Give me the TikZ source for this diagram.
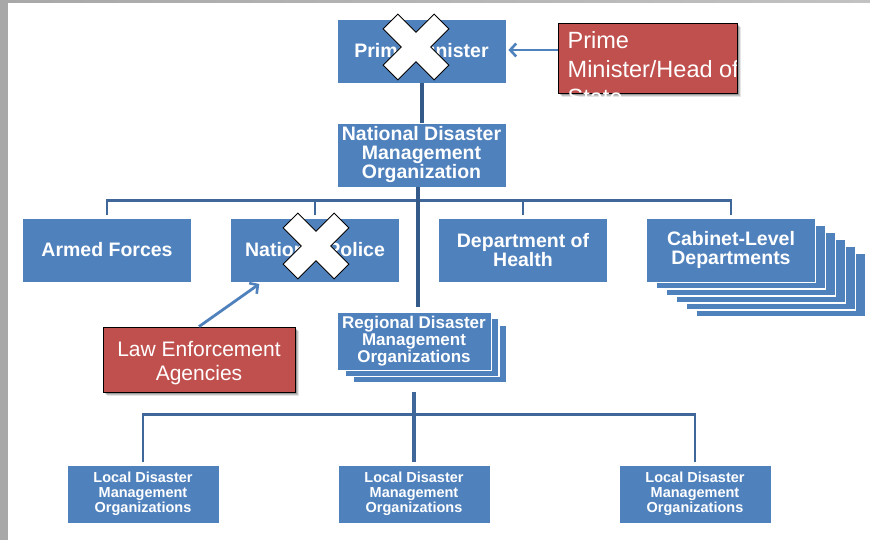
\documentclass[tikz,border=0pt]{standalone}
\usepackage{fontspec}
\setmainfont{Liberation Sans}
\usetikzlibrary{arrows.meta,calc}
\definecolor{boxblue}{HTML}{4F81BD}
\definecolor{linedark}{HTML}{345A8A}
\definecolor{busblue}{HTML}{3F679A}
\definecolor{notered}{HTML}{C0504D}
\definecolor{marging}{HTML}{A8A8A8}
\tikzset{
  orgbox/.style={rectangle, fill=boxblue, draw=white, line width=0.8pt, text=white,
    inner sep=0pt, align=center, font=\fontsize{19.5}{19}\selectfont\bfseries},
  bigbox/.style={orgbox, minimum width=169pt, minimum height=64pt},
  regbox/.style={orgbox, minimum width=154pt, minimum height=58pt,
    font=\fontsize{17}{17}\selectfont\bfseries},
  localbox/.style={orgbox, minimum width=152pt, minimum height=58pt,
    font=\fontsize{14.5}{15}\selectfont\bfseries},
  stackcopy/.style={fill=boxblue, draw=white, line width=1.2pt},
  notebox/.style={rectangle, fill=notered, draw=black, line width=0.8pt, inner sep=0pt},
  notetext/.style={text=white, inner sep=0pt, align=center},
  spine/.style={draw=linedark, line width=4pt},
  busline/.style={draw=busblue, line width=2.6pt},
  callarrow/.style={draw=boxblue, line width=2.8pt, -{Straight Barb[length=6pt,width=13pt,line width=2.6pt]}},
  crossmark/.style={fill=white, draw=black, line width=0.9pt, line join=miter},
}
\newcommand{\crossat}[2]{%
  \begin{scope}[shift={(#1,#2)}, rotate=45]
    \filldraw[crossmark] (10.5,36) -- (10.5,10.5) -- (36,10.5) -- (36,-10.5) -- (10.5,-10.5) -- (10.5,-36)
      -- (-10.5,-36) -- (-10.5,-10.5) -- (-36,-10.5) -- (-36,10.5) -- (-10.5,10.5) -- (-10.5,36) -- cycle;
  \end{scope}}
\newcommand{\shadowrect}[4]{%
  \foreach \s/\o in {4/0.10,3/0.15,2/0.20}{
    \fill[black, opacity=\o] ($(#1,#2)+(\s,\s)$) rectangle ($(#3,#4)+(\s,\s)$);
  }}
\begin{document}
\begin{tikzpicture}[x=1pt, y=-1pt]
\useasboundingbox (0,0) rectangle (870,540);
\fill[white] (0,0) rectangle (870,540);
% margins
\shade[left color=marging, right color=marging!70] (0,0) rectangle (870,3);
\fill[marging] (0,0) rectangle (8,540);

% boxes
\node[bigbox] (pm) at (421.5,51) {Prime Minister};
\node[bigbox] (ndmo) at (421.5,155) {National Disaster\\Management\\Organization};
\node[bigbox] (armed) at (107,250) {Armed Forces};
\node[bigbox] (police) at (315,250) {National Police};
\node[bigbox] (health) at (523,250) {Department of\\Health};
\foreach \k in {5,4,3,2,1}{
  \fill[stackcopy] (646.5+10*\k,218+7*\k) rectangle (815.5+10*\k,282+7*\k);
}
\node[bigbox] (cabinet) at (731,250) {Cabinet-Level\\Departments};
\foreach \k in {2,1}{
  \fill[stackcopy] (337+8*\k,312+6.5*\k) rectangle (491+8*\k,370+6.5*\k);
}
\node[regbox] (regional) at (414,341) {Regional Disaster\\Management\\Organizations};
\node[localbox] (local1) at (143,494) {Local Disaster\\Management\\Organizations};
\node[localbox] (local2) at (414,494) {Local Disaster\\Management\\Organizations};
\node[localbox] (local3) at (695,494) {Local Disaster\\Management\\Organizations};

% connectors
\draw[spine] (pm.south) -- (ndmo.north);
\coordinate (spinex) at (418,0);
\draw[busline] ([yshift=3pt]armed.north) -- ++(0,-14) -| ([yshift=3pt]cabinet.north);
\draw[busline] ([yshift=3pt]police.north) -- ++(0,-14);
\draw[busline] ([yshift=3pt]health.north) -- ++(0,-14);
\draw[spine] (ndmo.south -| spinex) -- ([yshift=5pt]regional.north -| spinex);
\draw[busline] ([yshift=3pt]local1.north) -- ++(0,-47) -| ([yshift=3pt]local3.north);
\draw[spine, line width=3.6pt, draw=busblue] ([yshift=-22pt]regional.south) -- ([yshift=3pt]local2.north);

% crosses
\crossat{416}{47}
\crossat{316}{246}

% callout: prime minister
\shadowrect{558}{23}{737}{93}
\node[notebox, minimum width=179pt, minimum height=70pt] (pmnote) at (647.5,58) {};
\begin{scope}
  \clip (558.5,23) rectangle (736.5,100);
  \node[notetext, anchor=north west, align=left, font=\fontsize{23.5}{28.5}\selectfont] (pmnotetext) at (567.5,31.5) {Prime\\Minister/Head of\\State};
\end{scope}
\draw[callarrow, shorten >=2pt] ([yshift=8pt]pmnote.west) -- ([yshift=8pt]pmnote.west -| pm.east);

% callout: law enforcement
\shadowrect{103}{327}{295}{392}
\node[notebox, minimum width=192pt, minimum height=65pt] (lawnote) at (199,359.5) {};
\node[notetext, font=\fontsize{21}{24}\selectfont] (lawnotetext) at ([yshift=-4pt]lawnote.center) {Law Enforcement\\Agencies};
\draw[callarrow, shorten >=1pt] (lawnote.north) -- ([xshift=30pt,yshift=-1pt]police.south west);
\end{tikzpicture}
\end{document}
